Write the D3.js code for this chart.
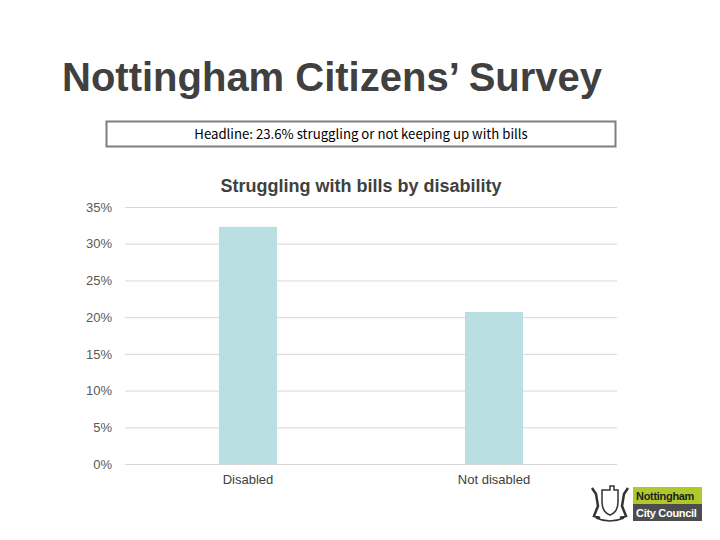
<!DOCTYPE html>
<meta charset="utf-8">
<script src="https://d3js.org/d3.v7.min.js"></script>
<style>
body { margin: 0; background: #fff; }
</style>
<div id="chart"></div>
<script>

// data
var categories = ['Disabled', 'Not disabled'];
var values = [32.3, 20.7];
var tickValues = [0, 5, 10, 15, 20, 25, 30, 35];

var width = 720, height = 540;
var margin = {top: 207, right: 103, bottom: 76, left: 125};

var svg = d3.select("#chart")
  .append("svg")
    .attr("width", width)
    .attr("height", height)
    .style("font-family", "Arial, 'Liberation Sans', sans-serif");

// page title
svg.append("text")
  .attr("x", 62)
  .attr("y", 91)
  .style("font-size", "40px")
  .style("font-weight", "bold")
  .style("fill", "#404040")
  .text("Nottingham Citizens\u2019 Survey");

// headline box
svg.append("rect")
  .attr("x", 106.5).attr("y", 121.5)
  .attr("width", 509).attr("height", 25)
  .attr("fill", "#fff")
  .attr("stroke", "#7f7f7f")
  .attr("stroke-width", 2);

svg.append("text")
  .attr("x", 361)
  .attr("y", 139)
  .attr("text-anchor", "middle")
  .style("font-family", "'Noto Sans CJK JP', sans-serif")
  .style("font-size", "13.2px")
  .style("fill", "#000")
  .text("Headline: 23.6% struggling or not keeping up with bills");

// chart title
svg.append("text")
  .attr("x", 361)
  .attr("y", 192)
  .attr("text-anchor", "middle")
  .style("font-size", "18px")
  .style("font-weight", "bold")
  .style("fill", "#404040")
  .text("Struggling with bills by disability");

var g = svg.append("g")
  .attr("transform", "translate(" + margin.left + "," + margin.top + ")");

var w = width - margin.left - margin.right,
    h = height - margin.top - margin.bottom;

var x = d3.scaleBand()
  .domain(categories)
  .range([0, w])
  .paddingInner(0.764)
  .paddingOuter(0.382);

var y = d3.scaleLinear()
  .domain([0, 35])
  .range([h, 0]);

// gridlines
g.append("g")
  .call(d3.axisLeft(y).tickValues(tickValues).tickSize(-w).tickFormat(""))
  .call(function(a) { a.select(".domain").remove(); })
  .selectAll("line")
    .attr("stroke", "#d9d9d9");

// y labels
g.append("g")
  .call(d3.axisLeft(y).tickValues(tickValues).tickSize(0).tickPadding(13)
    .tickFormat(function(d) { return d + "%"; }))
  .call(function(a) { a.select(".domain").remove(); })
  .selectAll("text")
    .style("font-size", "13px")
    .style("font-family", "Arial, 'Liberation Sans', sans-serif")
    .attr("fill", "#595959");

// bars
g.selectAll(".bar")
  .data(values)
  .enter().append("rect")
    .attr("class", "bar")
    .attr("x", function(d, i) { return x(categories[i]); })
    .attr("y", function(d) { return y(d); })
    .attr("width", x.bandwidth())
    .attr("height", function(d) { return h - y(d); })
    .attr("fill", "#badfe3");

// x labels
g.append("g")
  .attr("transform", "translate(0," + h + ")")
  .call(d3.axisBottom(x).tickSize(0).tickPadding(11))
  .call(function(a) { a.select(".domain").remove(); })
  .selectAll("text")
    .style("font-size", "13px")
    .style("font-family", "Arial, 'Liberation Sans', sans-serif")
    .attr("fill", "#404040");

// council logo
var logo = svg.append("g").attr("transform", "translate(588,484)");

// rough crest
logo.append("path")
  .attr("d", "M14,6 L22,6 L22,2 L26,2 L26,6 L30,6 L30,18 Q30,28 22,31 Q14,28 14,18 Z")
  .attr("fill", "none").attr("stroke", "#333").attr("stroke-width", 1.5);
logo.append("path")
  .attr("d", "M4,4 L8,10 L10,22 L6,32 L12,34 M40,4 L36,10 L34,22 L38,32 L32,34")
  .attr("fill", "none").attr("stroke", "#333").attr("stroke-width", 2.5);
logo.append("path")
  .attr("d", "M8,34 Q22,40 36,34")
  .attr("fill", "none").attr("stroke", "#333").attr("stroke-width", 1.5);

logo.append("rect")
  .attr("x", 45).attr("y", 3).attr("width", 69).attr("height", 17)
  .attr("fill", "#afc92a");
logo.append("text")
  .attr("x", 48).attr("y", 16)
  .style("font-size", "11px")
  .style("font-weight", "bold")
  .style("letter-spacing", "-0.3px")
  .style("fill", "#222")
  .text("Nottingham");
logo.append("rect")
  .attr("x", 45).attr("y", 20).attr("width", 69).attr("height", 17)
  .attr("fill", "#4d4d4d");
logo.append("text")
  .attr("x", 48).attr("y", 33)
  .style("font-size", "11px")
  .style("font-weight", "bold")
  .style("letter-spacing", "-0.3px")
  .style("fill", "#fff")
  .text("City Council");

</script>
